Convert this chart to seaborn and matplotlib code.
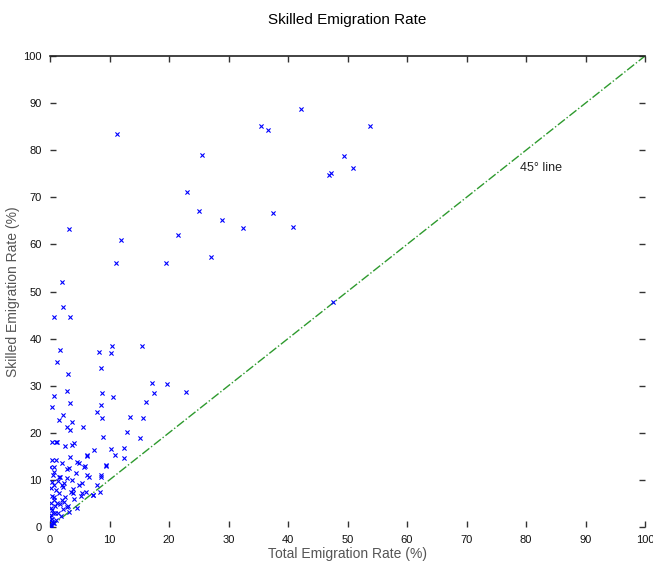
import matplotlib
matplotlib.use("Agg")
import matplotlib.pyplot as plt
import seaborn as sns
import pandas as pd

# Total emigration rate (%) and skilled emigration rate (%) per country
total_rate = [
    11.3, 42.2, 35.5, 36.6, 25.5, 23.0, 25.0, 28.9, 32.5, 37.5, 40.9, 21.5, 11.9, 3.2,
    11.1, 19.5, 27.1, 2.0, 46.9, 53.8, 49.4, 51.0, 47.2, 47.6,
    2.2, 0.7, 3.4, 1.7, 8.2, 10.4, 10.3, 15.4, 1.2, 8.6, 3.1, 17.1, 19.7, 8.8, 10.6,
    17.4, 22.8, 0.7, 2.8, 0.3, 3.4, 8.6, 16.2, 2.2, 7.9, 8.7, 13.4, 15.7, 1.5, 3.7,
    5.6, 2.8, 12.9, 15.1, 3.4, 0.3, 1.1, 3.7, 8.9, 7.4, 10.3, 12.5, 6.2, 3.4, 0.3,
    10.9, 12.5, 4.8, 5.9, 9.4, 0.6, 2.8, 6.6, 8.6, 1.7, 3.7, 5.3, 7.9, 0.3, 2.2,
    3.9, 7.3, 8.4, 0.6, 2.0, 2.8, 4.5, 0.3, 1.4, 0.0, 0.6, 0.1,
    0.95, 2.5, 4.0, 6.2, 1.0, 2.0, 4.5, 0.0, 0.7, 3.2, 5.7, 1.5, 4.4, 6.2, 4.9,
    2.4, 0.2, 1.5, 3.5, 5.4, 7.2, 0.7, 2.4, 0.2, 3.2, 0.0, 1.0, 0.2, 0.5, 9.4, 8.6,
    0.1, 0.3, 0.2, 0.5, 0.8, 1.2, 0.4, 1.0, 2.0, 1.3, 2.8, 0.5, 3.8, 2.6, 3.0,
    1.8, 2.2, 4.0, 5.2, 6.0, 0.4, 0.9, 1.6, 0.2, 0.6,
]
skilled_rate = [
    83.4, 88.7, 85.1, 84.3, 79.0, 71.1, 67.1, 65.2, 63.5, 66.7, 63.7, 62.0, 60.9, 63.3,
    56.0, 56.0, 57.3, 52.0, 74.7, 85.1, 78.8, 76.2, 75.1, 47.8,
    46.7, 44.6, 44.6, 37.6, 37.2, 38.4, 36.9, 38.4, 35.0, 33.8, 32.5, 30.6, 30.4, 28.5, 27.6,
    28.4, 28.7, 27.8, 28.9, 25.5, 26.3, 25.9, 26.5, 23.8, 24.4, 23.1, 23.4, 23.1, 22.7, 22.3,
    21.2, 21.2, 20.2, 18.9, 20.6, 18.0, 18.0, 17.4, 19.1, 16.3, 16.6, 16.8, 15.1, 14.9, 14.2,
    15.3, 14.6, 13.6, 13.0, 13.0, 12.8, 12.3, 10.6, 10.6, 10.6, 10.0, 9.3, 8.9, 9.6, 8.5,
    7.2, 6.8, 7.4, 6.4, 5.7, 4.2, 4.0, 3.6, 3.0, 1.5, 0.8, 0.1,
    18.0, 17.2, 17.8, 15.3, 14.2, 13.6, 13.8, 12.8, 11.7, 12.5, 12.8, 10.6, 11.5, 11.0, 8.9,
    9.3, 8.3, 7.2, 7.4, 7.2, 6.8, 5.7, 5.3, 4.0, 3.2, 2.1, 1.5, 0.4, 0.8, 13.2, 11.0,
    0.5, 1.0, 2.5, 3.0, 4.5, 5.0, 6.5, 7.8, 9.0, 9.8, 10.5, 11.0, 8.0, 6.3, 4.5,
    2.4, 3.8, 6.0, 6.5, 7.5, 1.8, 2.9, 4.8, 5.2, 9.0,
]

line_x = [0, 100]
line_y = [0, 100]

x_ticks = [0, 10, 20, 30, 40, 50, 60, 70, 80, 90, 100]
y_ticks = [0, 10, 20, 30, 40, 50, 60, 70, 80, 90, 100]

title = "Skilled Emigration Rate"
x_label = "Total Emigration Rate (%)"
y_label = "Skilled Emigration Rate (%)"
annotation = "45° line"

df = pd.DataFrame({"total": total_rate, "skilled": skilled_rate})
df_line = pd.DataFrame({"x": line_x, "y": line_y})

sns.set_style("white")
plt.rcParams["font.family"] = ["Liberation Sans", "DejaVu Sans"]

fig = plt.figure(figsize=(6.53, 5.71), dpi=100)
ax = fig.add_axes([50 / 653, 1 - 527 / 571, 595 / 653, 471 / 571])

sns.lineplot(data=df_line, x="x", y="y", ax=ax, color="#2e9a2e",
             linestyle="-.", linewidth=1.0, zorder=1)
sns.scatterplot(data=df, x="total", y="skilled", ax=ax, marker="x",
                color="#0000ff", s=9, linewidth=0.8, zorder=2)

ax.set_xlim(0, 100)
ax.set_ylim(0, 100)
ax.set_xticks(x_ticks)
ax.set_yticks(y_ticks)
ax.set_xticklabels([str(t) for t in x_ticks], fontsize=8, color="#111111")
ax.set_yticklabels([str(t) for t in y_ticks], fontsize=8, color="#111111")
ax.tick_params(direction="in", length=4, width=1.0, top=True, right=True,
               left=True, bottom=True, labeltop=False, labelright=False, pad=6,
               color="#333333")

for side in ["left", "bottom", "right"]:
    ax.spines[side].set_visible(False)
ax.spines["top"].set_visible(True)
ax.spines["top"].set_linewidth(1.2)
ax.spines["top"].set_color("#222222")

ax.set_xlabel(x_label, fontsize=10, color="#555555", labelpad=1)
ax.set_ylabel(y_label, fontsize=10, color="#555555", labelpad=2)
ax.set_title(title, fontsize=11, color="#000000", pad=23)
ax.text(79, 75.5, annotation, fontsize=9, color="#222222")

fig.savefig("out.png", dpi=100)
